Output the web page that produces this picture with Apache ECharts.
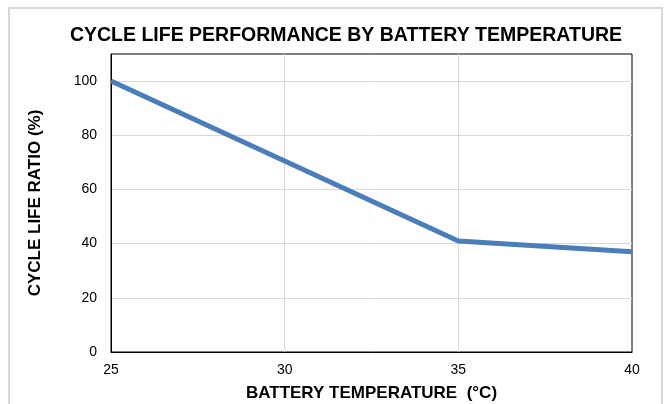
<!DOCTYPE html>
<html>
<head>
<meta charset="utf-8">
<script src="https://cdn.jsdelivr.net/npm/echarts@6/dist/echarts.min.js"></script>
<style>
  html, body { margin: 0; padding: 0; background: #fff; }
  #chart { width: 667px; height: 404px; }
</style>
</head>
<body>
<div id="chart"></div>
<script>
// battery temperature (°C) vs cycle life ratio (%)
const temps = [25, 30, 35, 40]
const lifeRatio = [100, 70.5, 41, 37]

const chart = echarts.init(document.getElementById('chart'))
const font = '"Liberation Sans", Arial, sans-serif'

chart.setOption({
  animation: false,
  title: {
    text: 'CYCLE LIFE PERFORMANCE BY BATTERY TEMPERATURE',
    left: 341,
    top: 21,
    textAlign: 'center',
    textStyle: { fontFamily: font, fontSize: 19.5, fontWeight: 'bold', color: '#000' }
  },
  graphic: [{
    type: 'rect',
    shape: { x: 9, y: 8, width: 653, height: 410 },
    style: { fill: 'none', stroke: '#d9d9d9', lineWidth: 2 }
  }],
  grid: {
    left: 111,
    right: 35,
    top: 54,
    bottom: 52,
    outerBoundsMode: 'none',
    containLabel: false,
    show: true,
    borderColor: '#000',
    borderWidth: 1
  },
  xAxis: {
    type: 'value',
    min: 25,
    max: 40,
    interval: 5,
    name: 'BATTERY TEMPERATURE  (°C)',
    nameLocation: 'middle',
    nameGap: 33,
    nameTextStyle: { fontFamily: font, fontSize: 17, fontWeight: 'bold', color: '#000' },
    axisLine: { show: true, lineStyle: { color: '#000', width: 1 } },
    axisTick: { show: false },
    axisLabel: { fontFamily: font, fontSize: 14, color: '#000', margin: 11 },
    splitLine: { showMinLine: false, showMaxLine: false, lineStyle: { color: '#d9d9d9' } }
  },
  yAxis: {
    type: 'value',
    min: 0,
    max: 110,
    interval: 20,
    name: 'CYCLE LIFE RATIO (%)',
    nameLocation: 'middle',
    nameGap: 67,
    nameTextStyle: { fontFamily: font, fontSize: 17, fontWeight: 'bold', color: '#000' },
    axisLine: { show: true, lineStyle: { color: '#000', width: 1 } },
    axisTick: { show: false },
    axisLabel: { fontFamily: font, fontSize: 14, color: '#000', margin: 14, showMaxLabel: false },
    splitLine: { showMinLine: false, showMaxLine: false, lineStyle: { color: '#d9d9d9' } }
  },
  series: [{
    type: 'line',
    data: temps.map((t, i) => [t, lifeRatio[i]]),
    symbol: 'none',
    lineStyle: { color: '#4a7ebb', width: 5 }
  }]
})
</script>
</body>
</html>
